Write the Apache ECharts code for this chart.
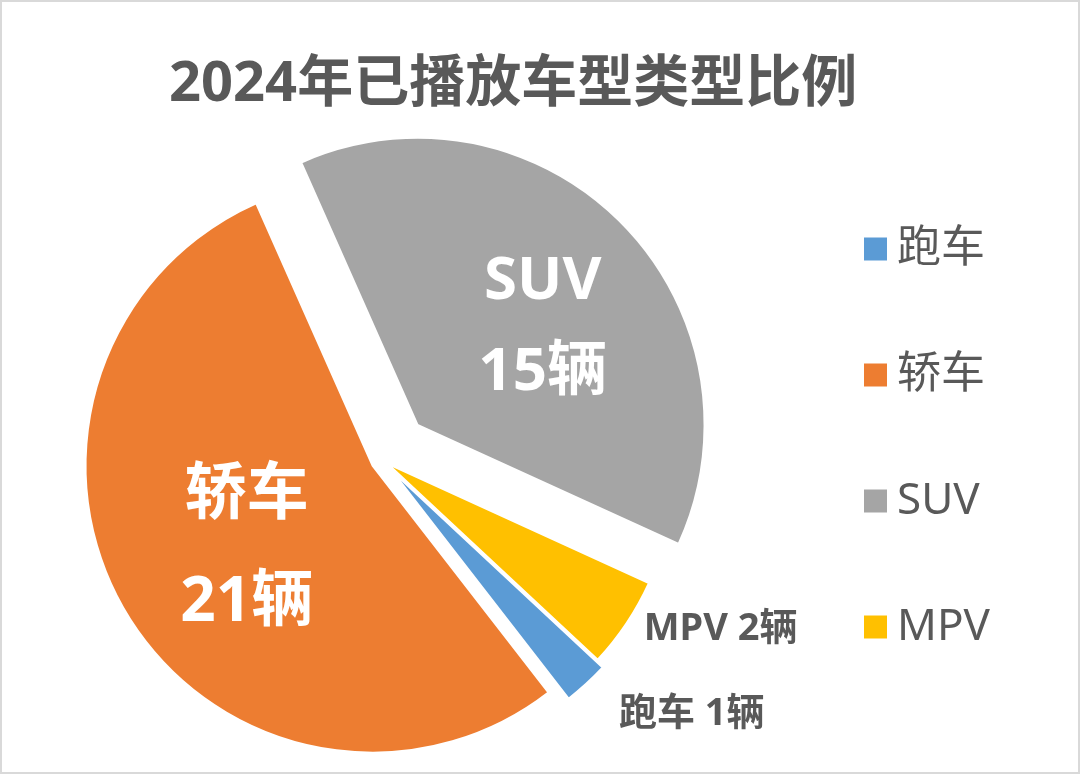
<!DOCTYPE html>
<html>
<head>
<meta charset="utf-8">
<script src="https://cdn.jsdelivr.net/npm/echarts@6/dist/echarts.min.js"></script>
<style>
html,body{margin:0;padding:0;background:#fff;}
#chart{width:1080px;height:774px;box-sizing:border-box;border:2px solid #d9d9d9;}
</style>
</head>
<body>
<div id="chart"></div>
<script>
// ---- data ----
const titleText = '2024年已播放车型类型比例';
const categories = ['跑车', '轿车', 'SUV', 'MPV'];
const values = [1, 21, 15, 2];
const unit = '辆';

// ---- styles ----
const colors = ['#5B9BD5', '#ED7D31', '#A5A5A5', '#FFC000'];
const explodeOffsets = [16, 11, 50, 7];
const baseCenter = [380, 458];
const pieRadius = 287;
const startAngle = 317;
const FONT = '"Noto Sans", "Noto Sans CJK SC", sans-serif';

const total = values.reduce((a, b) => a + b, 0);
let cum = 0;
const mids = values.map(v => {
  const mid = startAngle - (cum + v / 2) / total * 360;
  cum += v;
  return mid * Math.PI / 180;
});

const labelStyles = [
  { inside: false, fontSize: 38, lineLen: 41, lineLen2: 0, dist: 5 },
  { inside: true, fontSize: 62, lineHeight: 107, padding: [18, 0, 0, 0] },
  { inside: true, fontSize: 60, lineHeight: 91, padding: [12, 0, 0, 42] },
  { inside: false, fontSize: 38, lineLen: 10, lineLen2: 4, dist: 5 }
];

const series = categories.map((name, k) => {
  const ls = labelStyles[k];
  const cx = baseCenter[0] + explodeOffsets[k] * Math.cos(mids[k]);
  const cy = baseCenter[1] - explodeOffsets[k] * Math.sin(mids[k]);
  const labelCfg = ls.inside ? {
    show: true,
    position: 'inside',
    formatter: p => '{a|' + p.name + '}\n{a|' + p.value + unit + '}',
    padding: ls.padding,
    rich: { a: { fontSize: ls.fontSize, fontWeight: 'bold', color: '#ffffff', lineHeight: ls.lineHeight, fontFamily: FONT } }
  } : {
    show: true,
    position: 'outside',
    formatter: p => p.name + ' ' + p.value + unit,
    fontSize: ls.fontSize,
    fontWeight: 'bold',
    color: '#595959',
    fontFamily: FONT,
    distanceToLabelLine: ls.dist,
    alignTo: 'none'
  };
  return {
    type: 'pie',
    name: name,
    center: [cx, cy],
    radius: pieRadius,
    startAngle: startAngle,
    clockwise: true,
    avoidLabelOverlap: false,
    animation: false,
    emphasis: { disabled: true },
    labelLine: { show: false, length: ls.lineLen || 0, length2: ls.lineLen2 || 0 },
    label: labelCfg,
    data: categories.map((n, i) => ({
      name: n,
      value: values[i],
      itemStyle: i === k
        ? { color: colors[i], borderColor: '#ffffff', borderWidth: 2 }
        : { color: 'rgba(0,0,0,0)', borderWidth: 0 },
      label: { show: i === k },
      silent: i !== k
    }))
  };
});

const chart = echarts.init(document.getElementById('chart'), null, { renderer: 'canvas' });
chart.setOption({
  backgroundColor: '#ffffff',
  animation: false,
  title: {
    text: titleText,
    left: 162,
    top: 50,
    textStyle: { fontSize: 56, fontWeight: 'bold', color: '#595959', fontFamily: FONT }
  },
  legend: {
    orient: 'vertical',
    left: 857,
    top: 220,
    icon: 'rect',
    itemWidth: 23,
    itemHeight: 23,
    itemGap: 82,
    selectedMode: false,
    data: categories.map((n, i) => ({ name: n, itemStyle: { color: colors[i], borderWidth: 0 } })),
    textStyle: { fontSize: 44, color: '#595959', fontFamily: FONT, lineHeight: 44, padding: [0, 0, 0, 5] }
  },
  series: series
});
</script>
</body>
</html>
